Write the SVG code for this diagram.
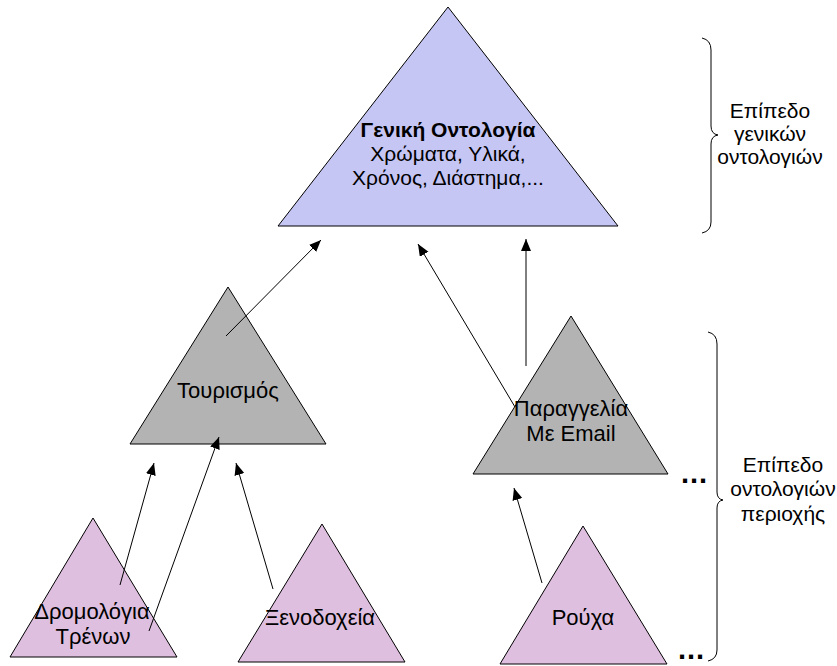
<svg xmlns="http://www.w3.org/2000/svg" width="837" height="666" viewBox="0 0 837 666">
<style>
text{font-family:"Liberation Sans",Arial,sans-serif;font-size:21px;fill:#000;text-anchor:middle}
.b{font-weight:bold}
.n{font-size:22px}
.tri{stroke:#000;stroke-width:1}
.gen{fill:#c6c6f5}
.dom{fill:#b3b3b3}
.app{fill:#dfbfdf}
.c{stroke:#000;stroke-width:1;fill:none;marker-end:url(#ah)}
.br{stroke:#000;stroke-width:1;fill:none}
.dots{font-weight:bold;font-size:29px;text-anchor:start;letter-spacing:1px}
</style>
<defs>
<marker id="ah" markerUnits="userSpaceOnUse" markerWidth="14" markerHeight="12" refX="12" refY="5" orient="auto">
<path d="M0,0 L12,5 L0,10 Z" fill="#000"/>
</marker>
</defs>
<rect width="837" height="666" fill="#fff"/>
<g id="general">
<polygon class="tri gen" points="448,7 618,226 278,226"/>
<text x="448" y="137" class="b">Γενική Οντολογία</text>
<text x="448" y="161">Χρώματα, Υλικά,</text>
<text x="448" y="185">Χρόνος, Διάστημα,...</text>
</g>
<g id="tourism">
<polygon class="tri dom" points="228,287 326,444 130,444"/>
<text class="n" x="228" y="398">Τουρισμός</text>
</g>
<g id="email">
<polygon class="tri dom" points="571,316 668,474 473,474"/>
<text class="n" x="571" y="416">Παραγγελία</text>
<text class="n" x="571" y="441">Με Email</text>
</g>
<g id="trains">
<polygon class="tri app" points="93,518 177,657 10,657"/>
<text class="n" x="92" y="619">Δρομολόγια</text>
<text class="n" x="93" y="644">Τρένων</text>
</g>
<g id="hotels">
<polygon class="tri app" points="322,524 405,662 238,662"/>
<text class="n" x="320" y="625">Ξενοδοχεία</text>
</g>
<g id="clothes">
<polygon class="tri app" points="583,526 667,664 500,664"/>
<text class="n" x="583" y="625">Ρούχα</text>
</g>
<g id="connectors">
<line class="c" x1="226" y1="336" x2="321" y2="240"/>
<line class="c" x1="515" y1="407" x2="418" y2="244"/>
<line class="c" x1="526" y1="366" x2="526" y2="239"/>
<line class="c" x1="120" y1="585" x2="154" y2="463"/>
<line class="c" x1="149" y1="631" x2="219" y2="437"/>
<line class="c" x1="273" y1="589" x2="236" y2="463"/>
<line class="c" x1="542" y1="583" x2="514" y2="488"/>
</g>
<g id="level-general">
<path class="br" d="M702,38 Q711,40 711,50 L711,126 Q711,134 718,135 Q711,136 711,144 L711,222 Q711,231 702,233"/>
<text x="770" y="118">Επίπεδο</text>
<text x="770" y="141">γενικών</text>
<text x="770" y="164">οντολογιών</text>
</g>
<g id="level-domain">
<path class="br" d="M708,332 Q717,334 717,344 L717,492 Q717,499 723,500 Q717,501 717,508 L717,650 Q717,659 708,661"/>
<text x="783" y="472">Επίπεδο</text>
<text x="783" y="496">οντολογιών</text>
<text x="783" y="521">περιοχής</text>
</g>
<text class="dots" x="681" y="483">...</text>
<text class="dots" x="678" y="659">...</text>
</svg>
